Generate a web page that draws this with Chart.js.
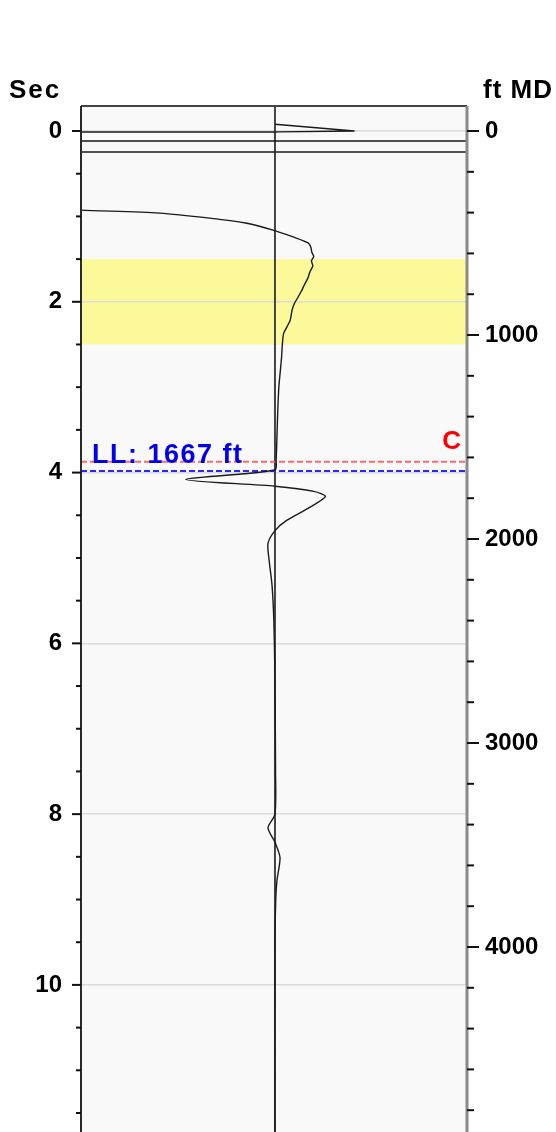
<!DOCTYPE html>
<html>
<head>
<meta charset="utf-8">
<script src="https://cdn.jsdelivr.net/npm/chart.js@4.4.1/dist/chart.umd.min.js"></script>
<style>
  html, body { margin: 0; padding: 0; background: #fff; overflow: hidden; }
  canvas { display: block; }
</style>
</head>
<body>
<canvas id="chart" width="556" height="1213"></canvas>
<script>
// log curve (sec down, normalised amplitude across)
const curveSec = [-0.08, 0.0, 0.01, 0.012, 0.012, 0.117, 0.117, 0.246, 0.246, 0.90,
  0.926, 0.961, 1.02, 1.08, 1.16, 1.24, 1.31, 1.36, 1.42, 1.47, 1.52, 1.58, 1.65, 1.72,
  1.80, 1.88, 1.95, 2.02, 2.10, 2.22, 2.37, 2.50, 2.65, 2.80, 3.0, 3.3, 3.6, 3.85, 3.97,
  4.08, 4.16, 4.22, 4.28, 4.42, 4.56, 4.68, 4.83, 5.03, 5.3, 5.6, 6.0, 6.5, 7.5, 8.0,
  8.16, 8.33, 8.51, 8.78, 9.0, 9.5, 12.3];
const curveVal = [0.0, 0.41, 0.02, 0.0, -1.2, -1.2, 1.2, 1.2, -1.2, -1.2,
  -1.0, -0.596, -0.337, -0.145, -0.01, 0.093, 0.171, 0.185, 0.19, 0.2, 0.188, 0.195, 0.18, 0.17,
  0.152, 0.135, 0.118, 0.1, 0.088, 0.078, 0.045, 0.038, 0.034, 0.028, 0.02, 0.014, 0.01, 0.006, 0.0,
  -0.46, 0.0, 0.2, 0.26, 0.17, 0.06, 0.0, -0.036, -0.03, -0.016, -0.008, -0.003, 0.0, 0.003, 0.0,
  -0.036, 0.0, 0.026, 0.01, 0.004, 0.0, 0.0];
const curveSmoothFrom = 9;             // index where the curve comes back on scale

const secLabels = [0, 2, 4, 6, 8, 10];
const ftLabels = [0, 1000, 2000, 3000, 4000];
const secMinorStep = 0.5;
const ftMinorStep = 200;

const zoneSec = [1.5, 2.5];           // yellow zone
const markerNames = ['C', 'LL: 1667 ft'];
const markerFt = [1621, 1667];
const markerColors = ['rgba(255,80,80,0.85)', '#2626ff'];
const markerTextColors = ['#ff0000', '#0000ee'];

const secRange = [-0.293, 12.28];
const secPerKft = 2.389;               // ratio between the two depth axes

const FONT = 'Liberation Sans, Arial, sans-serif';

const frame = {
  id: 'frame',
  beforeDraw(chart) {
    const { ctx, chartArea: a, scales } = chart;
    ctx.save();
    ctx.fillStyle = '#f9f9f9';
    ctx.fillRect(a.left, a.top, a.right - a.left, a.bottom - a.top);
    const y0 = scales.y.getPixelForValue(zoneSec[0]);
    const y1 = scales.y.getPixelForValue(zoneSec[1]);
    ctx.fillStyle = '#fbf99a';
    ctx.fillRect(a.left, y0, a.right - a.left, y1 - y0);
    ctx.restore();
  },
  beforeDatasetsDraw(chart) {
    const { ctx, chartArea: a, scales } = chart;
    const cx = scales.x.getPixelForValue(0);
    ctx.save();
    ctx.strokeStyle = '#444';
    ctx.lineWidth = 2;
    ctx.beginPath();
    ctx.moveTo(cx, a.top);
    ctx.lineTo(cx, a.bottom);
    ctx.stroke();
    ctx.restore();
  },
  afterDraw(chart) {
    const { ctx, chartArea: a, scales } = chart;
    ctx.save();
    // frame
    ctx.lineWidth = 2;
    ctx.strokeStyle = '#444';
    ctx.beginPath();
    ctx.moveTo(a.left, a.top); ctx.lineTo(a.right, a.top);
    ctx.stroke();
    ctx.strokeStyle = '#2a2a2a';
    ctx.beginPath();
    ctx.moveTo(a.left, a.top); ctx.lineTo(a.left, a.bottom);
    ctx.stroke();
    ctx.strokeStyle = '#8a8a8a';
    ctx.lineWidth = 3;
    ctx.beginPath();
    ctx.moveTo(a.right, a.top); ctx.lineTo(a.right, a.bottom);
    ctx.stroke();

    // tick marks
    ctx.strokeStyle = '#111';
    ctx.lineWidth = 2;
    scales.y.ticks.forEach(t => {
      const y = scales.y.getPixelForValue(t.value);
      const len = secLabels.includes(t.value) ? 9 : 5;
      ctx.beginPath(); ctx.moveTo(a.left - len, y); ctx.lineTo(a.left, y); ctx.stroke();
    });
    scales.y2.ticks.forEach(t => {
      const y = scales.y2.getPixelForValue(t.value);
      const len = ftLabels.includes(t.value) ? 12 : 7;
      ctx.beginPath(); ctx.moveTo(a.right, y); ctx.lineTo(a.right + len, y); ctx.stroke();
    });

    // axis titles
    ctx.fillStyle = '#000';
    ctx.font = 'bold 26px ' + FONT;
    ctx.textBaseline = 'alphabetic';
    ctx.letterSpacing = '2px';
    ctx.textAlign = 'left';
    ctx.fillText('Sec', 9, 98);
    ctx.letterSpacing = '1px';
    ctx.fillText('ft MD', 483, 98);

    // marker labels
    const yc = scales.y2.getPixelForValue(markerFt[0]);
    ctx.fillStyle = markerTextColors[0];
    ctx.font = 'bold 26px ' + FONT;
    ctx.letterSpacing = '0px';
    ctx.textAlign = 'right';
    ctx.fillText(markerNames[0], a.right - 6, yc - 13);
    const yl = scales.y2.getPixelForValue(markerFt[1]);
    ctx.fillStyle = markerTextColors[1];
    ctx.font = 'bold 27px ' + FONT;
    ctx.letterSpacing = '1.5px';
    ctx.textAlign = 'left';
    ctx.fillText(markerNames[1], a.left + 11, yl - 8);
    ctx.restore();
  }
};

const curvePts = curveSec.map((s, i) => ({ x: curveVal[i], y: s }));
const curveStyle = { yAxisID: 'y', showLine: true, borderColor: '#1a1a1a', borderWidth: 1.4, pointRadius: 0, clip: 0 };
const datasets = [
  Object.assign({ data: curvePts.slice(0, curveSmoothFrom + 1), tension: 0 }, curveStyle),
  Object.assign({ data: curvePts.slice(curveSmoothFrom), tension: 0.25 }, curveStyle)
];
markerFt.forEach((ft, i) => {
  datasets.push({
    data: [{ x: -1, y: ft }, { x: 0.99, y: ft }],
    yAxisID: 'y2',
    showLine: true,
    borderColor: markerColors[i],
    borderWidth: 2,
    borderDash: [6, 3],
    pointRadius: 0,
    clip: 0
  });
});

const tickFont = { family: FONT, size: 24, weight: 'bold' };

new Chart(document.getElementById('chart'), {
  type: 'scatter',
  data: { datasets },
  options: {
    responsive: false,
    animation: false,
    layout: { padding: { top: 106, left: 0, right: 0, bottom: 0 } },
    plugins: { legend: { display: false }, tooltip: { enabled: false } },
    scales: {
      x: { type: 'linear', min: -1, max: 0.99, display: false },
      y: {
        type: 'linear', position: 'left', reverse: true,
        min: secRange[0], max: secRange[1],
        afterFit: s => { s.width = 81; },
        afterBuildTicks: s => {
          const t = [];
          for (let v = 0; v <= secRange[1]; v += secMinorStep) t.push({ value: v });
          s.ticks = t;
        },
        border: { display: false },
        grid: {
          drawTicks: false,
          lineWidth: 1.5,
          color: c => secLabels.includes(c.tick && c.tick.value) ? '#dcdcdc' : 'rgba(0,0,0,0)'
        },
        ticks: {
          padding: 19, color: '#000', font: tickFont,
          callback: v => secLabels.includes(v) ? String(v) : ''
        }
      },
      y2: {
        type: 'linear', position: 'right', reverse: true,
        min: secRange[0] / secPerKft * 1000, max: secRange[1] / secPerKft * 1000,
        afterFit: s => { s.width = 89; },
        afterBuildTicks: s => {
          const t = [];
          for (let v = 0; v <= s.max; v += ftMinorStep) t.push({ value: v });
          s.ticks = t;
        },
        border: { display: false },
        grid: { drawTicks: false, drawOnChartArea: false },
        ticks: {
          padding: 18, color: '#000', font: tickFont,
          callback: v => ftLabels.includes(v) ? String(v) : ''
        }
      }
    }
  },
  plugins: [frame]
});
</script>
</body>
</html>
